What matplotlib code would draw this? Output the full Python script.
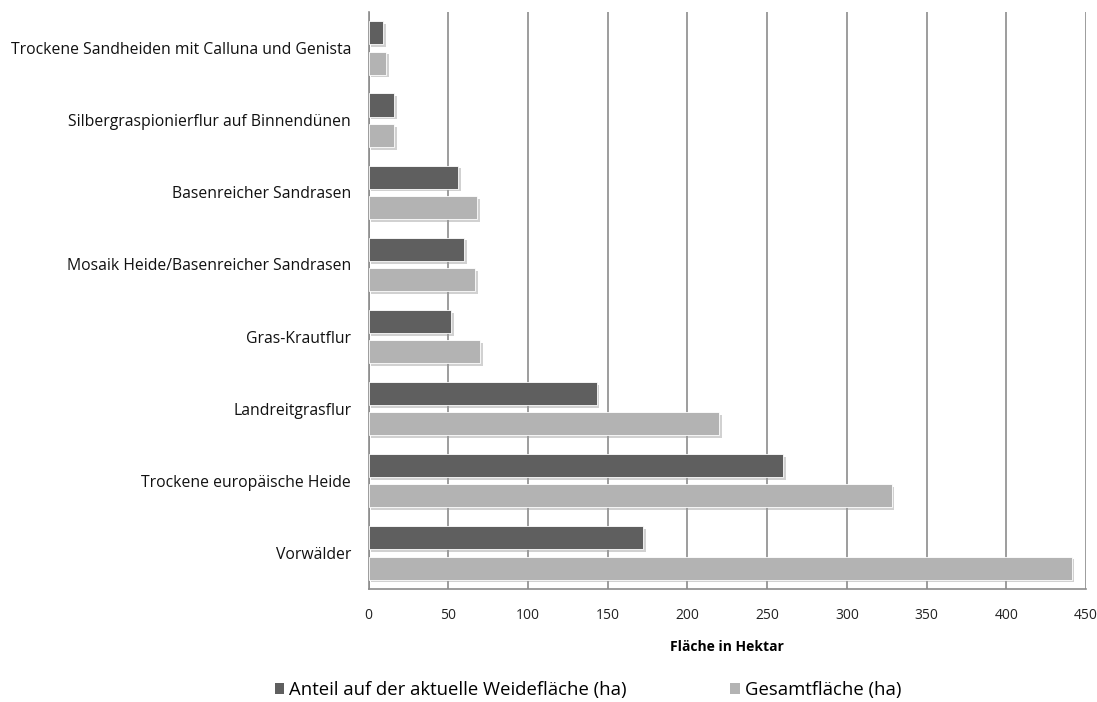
import numpy as np
import matplotlib
matplotlib.use("Agg")
import matplotlib.pyplot as plt
import matplotlib.patheffects as pe
from matplotlib.patches import Patch

plt.rcParams["font.family"] = ["Open Sans", "DejaVu Sans"]

# Daten (Fläche in Hektar)
categories = [
    "Trockene Sandheiden mit Calluna und Genista",
    "Silbergraspionierflur auf Binnendünen",
    "Basenreicher Sandrasen",
    "Mosaik Heide/Basenreicher Sandrasen",
    "Gras-Krautflur",
    "Landreitgrasflur",
    "Trockene europäische Heide",
    "Vorwälder",
]
anteil_weide = [9, 16, 56, 60, 52, 143, 260, 172]
gesamt = [11, 16, 68, 67, 70, 220, 328, 441]
xticks = [0, 50, 100, 150, 200, 250, 300, 350, 400, 450]

col_dark = "#5f5f5f"
col_light = "#b3b3b3"
col_grid = "#8c8c8c"

fig = plt.figure(figsize=(10.97, 7.02), dpi=100)
ax = fig.add_axes([0.336, 0.161, 0.654, 0.822])

y = np.arange(len(categories))
h = 0.32
off = 0.21
shadow = [pe.SimplePatchShadow(offset=(2, -2), shadow_rgbFace="#999999", alpha=0.45), pe.Normal()]

b1 = ax.barh(y - off, anteil_weide, height=h, color=col_dark, edgecolor="white", linewidth=0.6, zorder=3)
b2 = ax.barh(y + off, gesamt, height=h, color=col_light, edgecolor="white", linewidth=0.6, zorder=3)
for bar in list(b1) + list(b2):
    bar.set_path_effects(shadow)

ax.set_ylim(len(categories) - 0.5, -0.5)
ax.set_xlim(0, 450)
ax.set_xticks(xticks)
ax.set_xticklabels([str(t) for t in xticks], fontsize=10, color="#222222")
ax.set_yticks(y)
ax.set_yticklabels(categories, fontsize=11.3, color="#111111")
ax.tick_params(axis="y", length=0, pad=12.5)
ax.tick_params(axis="x", length=0, pad=14)

ax.grid(axis="x", color=col_grid, linewidth=1.2, zorder=0)
ax.set_axisbelow(True)
for s in ["top", "right"]:
    ax.spines[s].set_visible(False)
for s in ["left", "bottom"]:
    ax.spines[s].set_color(col_grid)
    ax.spines[s].set_linewidth(1.2)

ax.set_xlabel("Fläche in Hektar", fontsize=10, fontweight="bold", labelpad=12)

handles = [
    Patch(facecolor=col_dark, label="Anteil auf der aktuelle Weidefläche (ha)"),
    Patch(facecolor=col_light, label="Gesamtfläche (ha)"),
]
fig.legend(handles=handles, loc="center", bbox_to_anchor=(0.536, 0.017), ncol=2,
           frameon=False, fontsize=13.3, handlelength=0.5, handleheight=0.5,
           handletextpad=0.3, columnspacing=5.6)

fig.savefig("out.png", dpi=100)
